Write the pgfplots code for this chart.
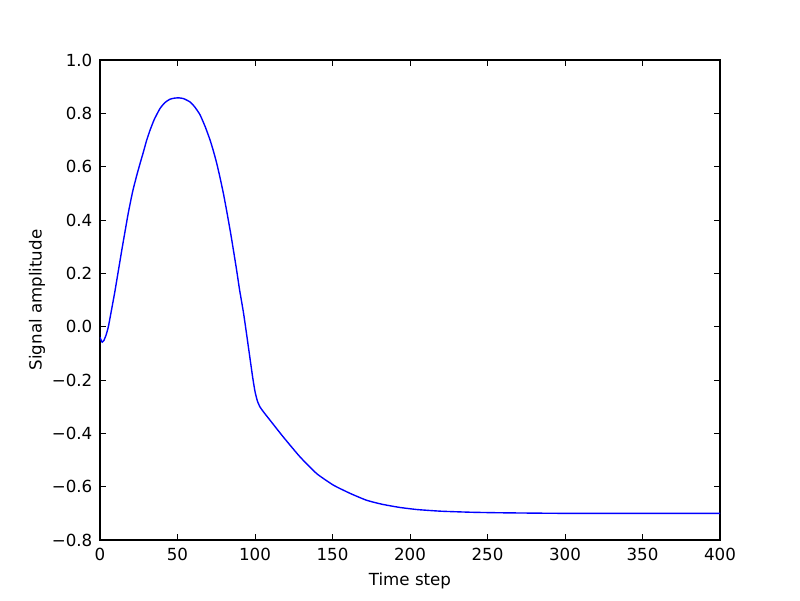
\documentclass[border=0pt]{standalone}
\usepackage{fontspec}
\setmainfont{DejaVu Sans}
\usepackage{pgfplots}
\pgfplotsset{compat=1.18}
\begin{document}
\begin{tikzpicture}
\path (-72pt,-43.2pt) rectangle (504pt,388.8pt);
\begin{axis}[
  scale only axis,
  width=446.4pt, height=345.6pt,
  xmin=0, xmax=400, ymin=-0.8, ymax=1.0,
  xtick={0,50,...,400},
  ytick={-0.8,-0.6,-0.4,-0.2,0,0.2,0.4,0.6,0.8,1.0},
  yticklabels={−0.8,−0.6,−0.4,−0.2,0.0,0.2,0.4,0.6,0.8,1.0},
  xticklabels={0,50,100,150,200,250,300,350,400},
  tick align=inside,
  major tick length=4pt,
  every tick/.style={black, line width=0.5pt},
  axis line style={line width=0.8pt},
  font=\fontsize{12}{14}\selectfont,
  tick label style={font=\fontsize{12}{14}\selectfont},
  xticklabel style={yshift=-2pt},
  yticklabel style={xshift=-2pt},
  xlabel={Time step},
  ylabel={Signal amplitude},
  xlabel style={yshift=-2.5pt},
  ylabel style={yshift=-2pt},
  /pgf/number format/assume math mode=true,
  clip=true,
]
\addplot[color={rgb,1:red,0;green,0;blue,1}, line width=1pt, smooth, tension=0.3] coordinates {
(0,-0.039) (1,-0.055) (1.5,-0.058) (2.5,-0.052) (4,-0.03) (5.4,0.0)
(7.5,0.065) (9.7,0.135) (12,0.215) (14,0.285) (16,0.352) (18.3,0.428)
(21,0.505) (23.6,0.565) (26,0.615) (28,0.655) (30,0.697) (32.3,0.737)
(35,0.777) (38.7,0.818) (42,0.841) (45.2,0.853) (48,0.857) (51,0.858)
(54,0.855) (58,0.843) (61,0.825) (64.5,0.795) (68,0.748) (71,0.70)
(73.1,0.66) (75.3,0.613) (77.4,0.56) (79.6,0.50) (81.7,0.435) (84,0.36)
(86,0.29) (88.2,0.21) (90,0.14) (92.5,0.055) (94.5,-0.025) (96.8,-0.12)
(98.5,-0.19) (100,-0.243) (101.5,-0.278) (103.2,-0.301) (105.4,-0.319)
(110,-0.353) (118.3,-0.414) (129,-0.488) (139.8,-0.551) (150.5,-0.594)
(161.3,-0.625) (172,-0.651) (182,-0.666) (193.5,-0.678) (205,-0.686)
(220,-0.692) (240,-0.696) (260,-0.698) (300,-0.70) (400,-0.70)
};
\end{axis}
\end{tikzpicture}
\end{document}
